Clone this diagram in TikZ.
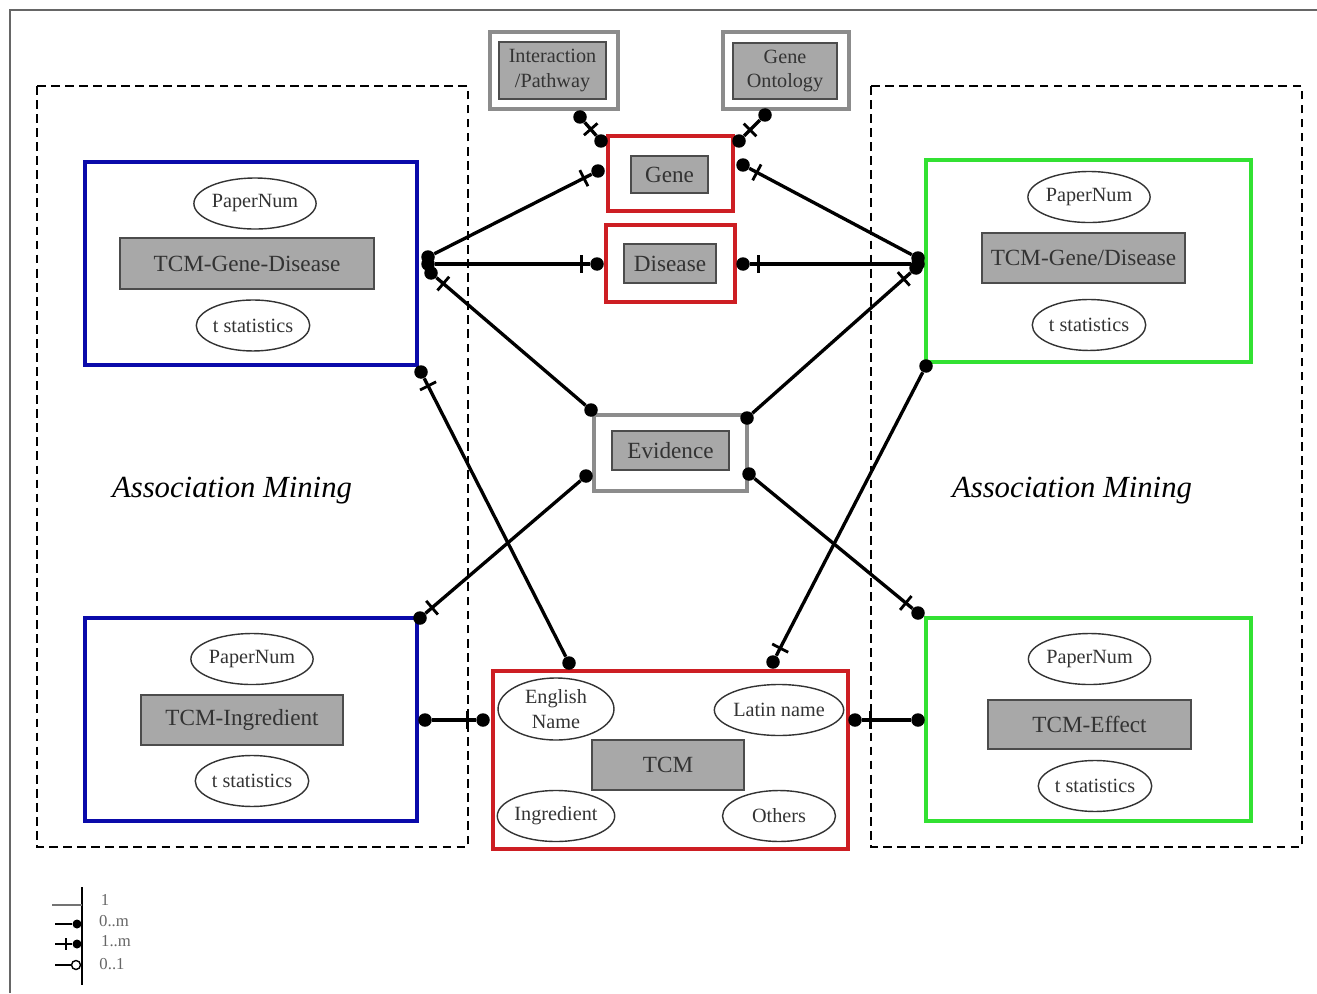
\documentclass[tikz,border=0pt]{standalone}
\usepackage{fontspec}
\setmainfont{Liberation Serif}
\usepackage{tikz}
\usetikzlibrary{shapes.geometric, arrows}
\usetikzlibrary{positioning}
\usetikzlibrary{decorations.markings}
\definecolor{frameBlue}{RGB}{10,10,170}
\definecolor{frameRed}{RGB}{205,30,35}
\definecolor{frameGreen}{RGB}{50,225,50}
\definecolor{boxGray}{RGB}{168,168,168}
\tikzstyle{entityBox} = [rectangle, fill=boxGray, draw=black!70, line width=1.1pt, text=black!80, inner sep=0pt, font=\fontsize{13.2}{14.5}\selectfont]
\tikzstyle{attrNode} = [ellipse, draw=black!80, line width=0.8pt, minimum width=2.26cm, minimum height=1.02cm, inner sep=0pt, align=center, text=black!80, font=\fontsize{11.5}{14}\selectfont]
\tikzstyle{frameBox} = [rectangle, line width=2pt, inner sep=0pt]
\tikzstyle{groupBox} = [draw, line width=1pt, dash pattern=on 5pt off 3pt]
\tikzstyle{solidNode} = [circle, minimum size=0.27cm, inner sep=0pt, fill=black]
\tikzstyle{link} = [line width=1.9pt, -]
\tikzstyle{oneEnd} = [postaction={decorate}, decoration={markings, mark=at position -0.17cm with {\draw[line width=1.6pt] (0,-0.18cm) -- (0,0.18cm);}}]

\begin{document}
\begin{tikzpicture}[x=0.02cm, y=-0.02cm, node distance=1.2cm, on grid]
\useasboundingbox (0,0) rectangle (1317,993);
% page frame
\draw [black!60, line width=0.8pt] (10,993) -- (10,10) -- (1317,10);

% association mining areas
\draw [groupBox] (37,86) rectangle (468,847);
\draw [groupBox] (871,86) rectangle (1302,847);
\node (amLeft) at (232,491) {\fontsize{17.5}{20}\selectfont\itshape Association Mining};
\node (amRight) at (1072,491) {\fontsize{17.5}{20}\selectfont\itshape Association Mining};

% center column
\node (ipFrame) [frameBox, draw=black!45, line width=2.2pt, minimum width=2.56cm, minimum height=1.54cm] at (554,70.5) {};
\node (ip) [entityBox, align=center, minimum width=2.14cm, minimum height=1.14cm, font=\fontsize{11.5}{14.2}\selectfont] at (552.5,70.5) {Interaction\\/Pathway};
\node (goFrame) [frameBox, draw=black!45, line width=2.2pt, minimum width=2.52cm, minimum height=1.54cm] at (786,70.5) {};
\node (go) [entityBox, align=center, minimum width=2.08cm, minimum height=1.12cm, font=\fontsize{11.5}{14.2}\selectfont] at (785,71) {Gene\\Ontology};

\node (geneFrame) [frameBox, draw=frameRed, minimum width=2.5cm, minimum height=1.5cm] at (670.5,173.5) {};
\node (gene) [entityBox, minimum width=1.54cm, minimum height=0.74cm] at (669.5,174.5) {Gene};
\node (diseaseFrame) [frameBox, draw=frameRed, minimum width=2.58cm, minimum height=1.54cm] at (670.5,263.5) {};
\node (disease) [entityBox, minimum width=1.84cm, minimum height=0.78cm] at (670,263.5) {Disease};
\node (evFrame) [frameBox, draw=black!45, line width=2.2pt, minimum width=3.06cm, minimum height=1.52cm] at (670.5,453) {};
\node (evidence) [entityBox, minimum width=2.34cm, minimum height=0.78cm] at (670.5,450.5) {Evidence};

\node (tcmFrame) [frameBox, draw=frameRed, minimum width=7.1cm, minimum height=3.56cm] at (670.5,760) {};
\node (tcm) [entityBox, minimum width=3.04cm, minimum height=1cm] at (668,765) {TCM};
\node (engName) [attrNode, minimum width=2.32cm, minimum height=1.24cm] at (556,709) {English\\Name};
\node (latName) [attrNode] at (779,710) {Latin name};
\node (ingr) [attrNode] at (556,816) {Ingredient};
\node (others) [attrNode] at (779,816) {Others};

% left tables
\node (tgdFrame) [frameBox, draw=frameBlue, minimum width=6.64cm, minimum height=4.06cm] at (251,263.5) {};
\node (tgd) [entityBox, minimum width=5.08cm, minimum height=1.02cm] at (247,263.5) {TCM-Gene-Disease};
\node (tgdNum) [attrNode, above=1.2cm of tgd, xshift=0.16cm] {PaperNum};
\node (tgdStat) [attrNode, below=1.24cm of tgd, xshift=0.12cm] {t statistics};

\node (tiFrame) [frameBox, draw=frameBlue, minimum width=6.64cm, minimum height=4.06cm] at (251,719.5) {};
\node (ti) [entityBox, minimum width=4.04cm, minimum height=1cm] at (242,720) {TCM-Ingredient};
\node (tiNum) [attrNode, above=1.22cm of ti, xshift=0.2cm] {PaperNum};
\node (tiStat) [attrNode, below=1.22cm of ti, xshift=0.2cm] {t statistics};

% right tables
\node (tgd2Frame) [frameBox, draw=frameGreen, minimum width=6.5cm, minimum height=4.04cm] at (1088.5,261) {};
\node (tgd2) [entityBox, minimum width=4.06cm, minimum height=1cm] at (1083.5,258) {TCM-Gene/Disease};
\node (tgd2Num) [attrNode, above=1.22cm of tgd2, xshift=0.11cm] {PaperNum};
\node (tgd2Stat) [attrNode, below=1.34cm of tgd2, xshift=0.11cm] {t statistics};

\node (teFrame) [frameBox, draw=frameGreen, minimum width=6.5cm, minimum height=4.06cm] at (1088.5,719.5) {};
\node (te) [entityBox, minimum width=4.06cm, minimum height=0.98cm] at (1089.5,724.5) {TCM-Effect};
\node (teNum) [attrNode, above=1.31cm of te] {PaperNum};
\node (teStat) [attrNode, below=1.23cm of te, xshift=0.11cm] {t statistics};

% connector ends
\node (ipDot) [solidNode] at (580,117) {};
\node (geneDotA) [solidNode] at (601,141) {};
\node (goDot) [solidNode] at (765,115) {};
\node (geneDotB) [solidNode] at (739,141) {};
\node (tgdDotA) [solidNode] at (428,257) {};
\node (geneDotC) [solidNode] at (598,171) {};
\node (tgdDotB) [solidNode] at (428,264) {};
\node (disDotA) [solidNode] at (597,264) {};
\node (evDotA) [solidNode] at (591,410) {};
\node (tgdDotC) [solidNode] at (431,273) {};
\node (tcmDotA) [solidNode] at (569,663) {};
\node (tgdDotD) [solidNode] at (421,372) {};
\node (evDotB) [solidNode] at (586,476) {};
\node (tiDotA) [solidNode] at (420,618) {};
\node (tiDotB) [solidNode] at (425,720) {};
\node (tcmDotB) [solidNode] at (483,720) {};
\node (tgd2DotA) [solidNode] at (918,258) {};
\node (geneDotD) [solidNode] at (743,165) {};
\node (tgd2DotB) [solidNode] at (918,264) {};
\node (disDotB) [solidNode] at (743,264) {};
\node (evDotC) [solidNode] at (747,418) {};
\node (tgd2DotC) [solidNode] at (916,268) {};
\node (tgd2DotD) [solidNode] at (926,366) {};
\node (tcmDotC) [solidNode] at (773,662) {};
\node (evDotD) [solidNode] at (749,474) {};
\node (teDotA) [solidNode] at (918,613) {};
\node (teDotB) [solidNode] at (918,720) {};
\node (tcmDotD) [solidNode] at (855,720) {};

\draw [link, oneEnd] (ipDot) -- (geneDotA);
\draw [link, oneEnd] (goDot) -- (geneDotB);
\draw [link, oneEnd] (tgdDotA) -- (geneDotC);
\draw [link, oneEnd] (tgdDotB) -- (disDotA);
\draw [link, oneEnd] (evDotA) -- (tgdDotC);
\draw [link, oneEnd] (tcmDotA) -- (tgdDotD);
\draw [link, oneEnd] (evDotB) -- (tiDotA);
\draw [link, oneEnd] (tiDotB) -- (tcmDotB);
\draw [link, oneEnd] (tgd2DotA) -- (geneDotD);
\draw [link, oneEnd] (tgd2DotB) -- (disDotB);
\draw [link, oneEnd] (evDotC) -- (tgd2DotC);
\draw [link, oneEnd] (tgd2DotD) -- (tcmDotC);
\draw [link, oneEnd] (evDotD) -- (teDotA);
\draw [link, oneEnd] (teDotB) -- (tcmDotD);

% legend
\coordinate (lgTop) at (82,887);
\coordinate (lgBot) at (82,985);
\draw [line width=1.2pt] (lgTop) -- (lgBot);
\coordinate (lgOneA) at (52,905);
\coordinate (lgOneB) at (82,905);
\draw [black!55, line width=0.6pt] (lgOneA) -- (lgOneB);
\node (lgOne) [black!60, font=\fontsize{9.5}{10}\selectfont] at (105,900) {1};
\coordinate (lgZmA) at (55,924);
\node (lgZmDot) [solidNode, minimum size=0.18cm] at (77,924) {};
\draw [line width=1.2pt] (lgZmA) -- (lgZmDot);
\node (lgZm) [black!60, font=\fontsize{9.5}{10}\selectfont] at (114,921) {0..m};
\coordinate (lgOmA) at (55,944);
\node (lgOmDot) [solidNode, minimum size=0.18cm] at (77,944) {};
\draw [line width=1.2pt] (lgOmA) -- (lgOmDot);
\coordinate (lgOmT) at (66,938);
\coordinate (lgOmB) at (66,950);
\draw [line width=1pt] (lgOmT) -- (lgOmB);
\node (lgOm) [black!60, font=\fontsize{9.5}{10}\selectfont] at (116,941) {1..m};
\coordinate (lgZoA) at (55,965);
\node (lgZoDot) [circle, draw, line width=0.8pt, minimum size=0.18cm, inner sep=0pt] at (76,965) {};
\draw [line width=1.2pt] (lgZoA) -- (lgZoDot);
\node (lgZo) [black!60, font=\fontsize{9.5}{10}\selectfont] at (112,964) {0..1};
\end{tikzpicture}
\end{document}
